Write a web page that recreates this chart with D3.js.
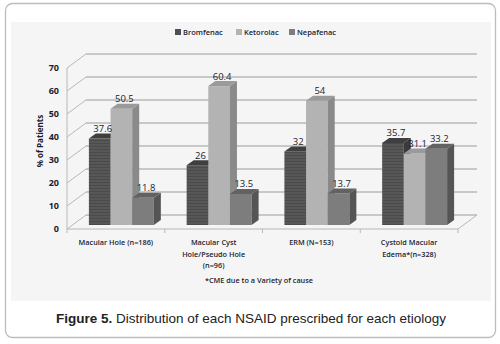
<!DOCTYPE html>
<html><head><meta charset="utf-8">
<script src="https://cdn.jsdelivr.net/npm/d3@7"></script>
<style>body{margin:0;background:#fff}svg{display:block}</style>
</head><body>
<script>
const categories = [["Macular  Hole (n=186)"], ["Macular Cyst", "Hole/Pseudo Hole", "(n=96)"], ["ERM (N=153)"], ["Cystoid Macular", "Edema*(n=328)"]];
const series = ["Bromfenac", "Ketorolac", "Nepafenac"];
const bromfenac = [37.6, 26, 32, 35.7];
const ketorolac = [50.5, 60.4, 54, 31.1];
const nepafenac = [11.8, 13.5, 13.7, 33.2];
const yTicks = [0, 10, 20, 30, 40, 50, 60, 70];
const values = [bromfenac, ketorolac, nepafenac];

const W = 500, H = 344;
const svg = d3.select("body").append("svg").attr("width", W).attr("height", H);
const defs = svg.append("defs");
const pat = defs.append("pattern").attr("id","stripe").attr("patternUnits","userSpaceOnUse").attr("width",4).attr("height",3);
pat.append("rect").attr("width",4).attr("height",3).attr("fill","#575757");
pat.append("rect").attr("y",2).attr("width",4).attr("height",1).attr("fill","#4a4a4a");

// frame
svg.append("rect").attr("x",5.5).attr("y",3.5).attr("width",490).attr("height",334).attr("rx",7)
  .attr("fill","#fff").attr("stroke","#bdbdbd").attr("stroke-width",1.3);
svg.append("rect").attr("x",11).attr("y",22).attr("width",480).attr("height",279).attr("fill","#f5f5f5");

const y = d3.scaleLinear().domain([0,70]).range([229,68]);
const x = d3.scaleBand().domain(d3.range(categories.length)).range([67,458]).padding(0);
const inner = d3.scaleBand().domain(series).range([16.4, x.bandwidth()-16.4]).padding(0);
const DX = 19, DY = -14;       // wall depth
const BX = 5.5, BY = -4;       // bar front offset
const BDX = 7, BDY = -5;        // bar depth
const gridC = "#b8b8b8";

const g = svg.append("g");
yTicks.forEach(t => {
  g.append("line").attr("x1", 67+DX).attr("x2", 458+DX).attr("y1", y(t)+DY).attr("y2", y(t)+DY)
    .attr("stroke", gridC).attr("stroke-width", 1.4);
  g.append("line").attr("x1", 67).attr("x2", 67+DX).attr("y1", y(t)).attr("y2", y(t)+DY)
    .attr("stroke", gridC).attr("stroke-width", 1);
});
g.append("line").attr("x1",67).attr("x2",67).attr("y1",y(0)).attr("y2",y(70)).attr("stroke",gridC).attr("stroke-width",1);
g.append("line").attr("x1",67).attr("x2",458).attr("y1",y(0)).attr("y2",y(0)).attr("stroke",gridC).attr("stroke-width",1.2);
g.append("line").attr("x1",458).attr("x2",458+DX).attr("y1",y(0)).attr("y2",y(0)+DY).attr("stroke",gridC).attr("stroke-width",1);
d3.range(categories.length+1).forEach(i => {
  const xx = i < categories.length ? x(i) : 458;
  g.append("line").attr("x1",xx).attr("x2",xx).attr("y1",y(0)).attr("y2",y(0)+4).attr("stroke",gridC).attr("stroke-width",1);
});

svg.append("g").selectAll("text").data(yTicks).join("text")
  .attr("x",59).attr("y",d=>y(d)+3).attr("text-anchor","end")
  .attr("font-family","Open Sans, sans-serif").attr("font-weight","bold").attr("font-size",9).attr("fill","#1c1c30").text(d=>d);
svg.append("text").attr("transform","translate(43,141) rotate(-90)").attr("text-anchor","middle")
  .attr("font-family","Open Sans, sans-serif").attr("font-weight","bold").attr("font-size",8).attr("fill","#1c1c30").text("% of Patients");

const styles = {
  Bromfenac: {front:"url(#stripe)", top:"#3f3f3f", side:"#3a3a3a"},
  Ketorolac: {front:"#b3b3b3", top:"#9a9a9a", side:"#8a8a8a"},
  Nepafenac: {front:"#7d7d7d", top:"#626262", side:"#555555"}
};

const bars = svg.append("g");
categories.forEach((c, ci) => {
  series.forEach((s, si) => {
    const v = values[si][ci];
    const x0 = x(ci) + inner(s) + BX, x1 = x0 + inner.bandwidth();
    const yb = y(0) + BY, yt = y(v) + BY;
    const st = styles[s];
    const bg = bars.append("g");
    bg.append("rect").attr("x",x0).attr("y",yt).attr("width",x1-x0).attr("height",yb-yt).attr("fill",st.front);
    bg.append("path").attr("d",`M${x1},${yt}L${x1+BDX},${yt+BDY}L${x1+BDX},${yb+BDY}L${x1},${yb}Z`).attr("fill",st.side);
    bg.append("path").attr("d",`M${x0},${yt}L${x0+BDX},${yt+BDY}L${x1+BDX},${yt+BDY}L${x1},${yt}Z`).attr("fill",st.top);
  });
});
const lab = svg.append("g");
categories.forEach((c, ci) => {
  series.forEach((s, si) => {
    const v = values[si][ci];
    const xc = x(ci) + inner(s) + BX + inner.bandwidth()/2 + 3;
    lab.append("text").attr("x",xc).attr("y",y(v)+BY+BDY-1.5).attr("text-anchor","middle")
      .attr("font-family","Open Sans, sans-serif").attr("font-size",9.5).attr("fill","#1c1c30").text(v);
  });
});

const cl = svg.append("g");
categories.forEach((lines, ci) => {
  const t = cl.append("text").attr("x", x(ci)+x.bandwidth()/2).attr("y",245).attr("text-anchor","middle")
    .attr("font-family","Open Sans, sans-serif").attr("font-size",7.3).attr("font-weight",600).attr("fill","#1c1c30");
  lines.forEach((l,li)=> t.append("tspan").attr("x",x(ci)+x.bandwidth()/2).attr("dy", li?11.5:0).text(l));
});
svg.append("text").attr("x",259).attr("y",283).attr("text-anchor","middle")
  .attr("font-family","Open Sans, sans-serif").attr("font-size",7.3).attr("font-weight",600).attr("fill","#1c1c30").text("*CME due to a Variety of cause");

const legColors = ["#4f4f4f","#b3b3b3","#7d7d7d"];
const legX = [175, 236, 289];
series.forEach((s,i)=>{
  svg.append("rect").attr("x",legX[i]).attr("y",29).attr("width",6).attr("height",6).attr("fill",legColors[i]);
  svg.append("text").attr("x",legX[i]+8).attr("y",35).attr("font-family","Open Sans, sans-serif")
    .attr("font-size",7.5).attr("font-weight",600).attr("fill","#1c1c30").text(s);
});

const cap = svg.append("text").attr("x",251).attr("y",323).attr("text-anchor","middle")
  .attr("font-family","Liberation Sans, Arial, sans-serif").attr("font-size",13.5).attr("fill","#222");
cap.append("tspan").attr("font-weight","bold").text("Figure 5.");
cap.append("tspan").text(" Distribution of each NSAID prescribed for each etiology");
</script>
</body></html>
